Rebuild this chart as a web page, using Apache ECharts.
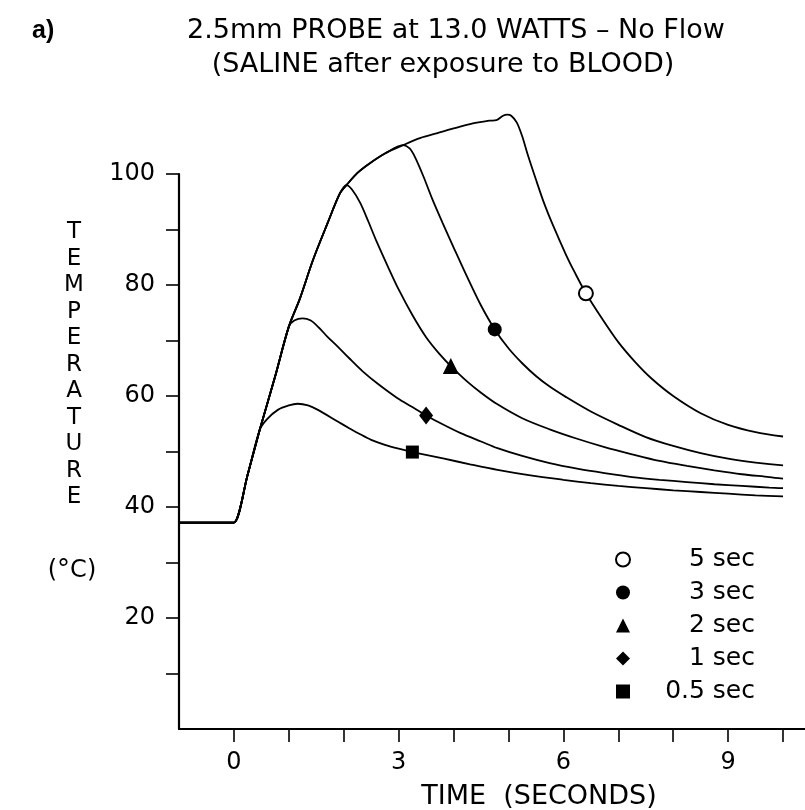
<!DOCTYPE html>
<html>
<head>
<meta charset="utf-8">
<script src="https://cdn.jsdelivr.net/npm/echarts@6/dist/echarts.min.js"></script>
<style>
  html, body { margin: 0; padding: 0; background: #fff; }
  #chart { width: 805px; height: 810px; }
</style>
</head>
<body>
<div id="chart"></div>
<script>
// heating phase, shared by every curve (time s, temperature C)
const heatTime = [-1, -0.1, 0, 0.25, 0.47, 0.75, 1.0, 1.2, 1.44, 1.7, 1.93, 2.05, 2.25, 2.47, 2.75, 3.08, 3.4, 3.69, 4.0, 4.3, 4.65, 4.78, 4.9, 4.98];
const heatTemp = [37.2, 37.2, 37.2, 45.8, 53.9, 63.5, 72.5, 77.5, 84.5, 91, 96.5, 98, 100.2, 101.9, 103.7, 105.2, 106.5, 107.3, 108.2, 109, 109.6, 109.7, 110.5, 110.7];

// cooling after the probe is switched off
const cool05Time = [0.6, 0.8, 1.0, 1.16, 1.35, 1.53, 1.89, 2.1, 2.3, 2.5, 2.75, 3.0, 3.25, 3.83, 4.3, 4.8, 5.4, 6.0, 6.5, 7.0, 7.5, 8.0, 8.5, 9.0, 9.5, 10.0];
const cool05Temp = [55.8, 57.5, 58.3, 58.6, 58.3, 57.5, 55.4, 54.2, 53.1, 52.1, 51.2, 50.5, 49.9, 48.7, 47.7, 46.7, 45.7, 44.9, 44.3, 43.8, 43.4, 43.0, 42.7, 42.4, 42.1, 41.9];

const cool1Time = [1.1, 1.25, 1.4, 1.55, 1.7, 1.89, 2.1, 2.35, 2.62, 2.98, 3.25, 3.5, 3.8, 4.13, 4.5, 4.8, 5.25, 5.75, 6.25, 6.75, 7.25, 7.75, 8.25, 8.75, 9.25, 9.75, 10.0];
const cool1Temp = [73.6, 74.0, 73.6, 72.3, 70.7, 68.9, 66.8, 64.4, 62.2, 59.6, 58.0, 56.5, 54.9, 53.3, 51.8, 50.6, 49.2, 47.9, 46.9, 46.1, 45.4, 44.9, 44.5, 44.1, 43.8, 43.5, 43.4];

const cool2Time = [2.15, 2.3, 2.45, 2.6, 2.8, 3.0, 3.25, 3.5, 3.75, 3.95, 4.25, 4.5, 4.8, 5.25, 5.75, 6.25, 6.75, 7.25, 7.75, 8.25, 8.75, 9.25, 9.75, 10.0];
const cool2Temp = [97.2, 94.8, 91.4, 87.8, 83.4, 79.2, 74.6, 70.6, 67.5, 65.4, 62.6, 60.6, 58.5, 56.0, 54.0, 52.3, 50.8, 49.5, 48.3, 47.4, 46.6, 45.9, 45.4, 45.1];

const cool3Time = [3.2, 3.3, 3.45, 3.6, 3.8, 4.0, 4.25, 4.5, 4.75, 5.0, 5.25, 5.5, 5.75, 6.05, 6.5, 7.0, 7.5, 8.0, 8.5, 9.0, 9.5, 10.0];
const cool3Temp = [104.6, 103.0, 99.6, 95.8, 91.2, 86.8, 81.4, 76.3, 72.0, 68.6, 65.9, 63.6, 61.7, 59.8, 57.2, 54.8, 52.6, 51.0, 49.7, 48.7, 48.0, 47.5];

const cool5Time = [5.05, 5.15, 5.25, 5.35, 5.5, 5.65, 5.8, 6.05, 6.2, 6.41, 6.7, 7.0, 7.3, 7.6, 8.0, 8.5, 9.0, 9.5, 10.0];
const cool5Temp = [110.5, 109.3, 106.8, 103.5, 99.0, 94.7, 91.0, 85.4, 82.4, 78.5, 74.0, 69.7, 66.2, 63.2, 60.0, 56.9, 54.8, 53.5, 52.7];

// pulse lengths, where each curve leaves the heating line, and marker points
const pulseNames = ['5 sec', '3 sec', '2 sec', '1 sec', '0.5 sec'];
const branchTime = [4.98, 3.08, 2.05, 1.0, 0.47];
const markerTime = [6.41, 4.75, 3.95, 3.5, 3.25];
const markerTemp = [78.5, 72.0, 65.4, 56.5, 49.9];
const markerSymbols = ['emptyCircle', 'circle', 'triangle', 'diamond', 'rect'];
const markerSizes = [14, 14, 16, [14, 18], 13];

const xTicks = [0, 1, 2, 3, 4, 5, 6, 7, 8, 9, 10];
const xTickLabels = [0, 3, 6, 9];
const yTicks = [10, 20, 30, 40, 50, 60, 70, 80, 90, 100];
const yTickLabels = [20, 40, 60, 80, 100];

const coolTime = [cool5Time, cool3Time, cool2Time, cool1Time, cool05Time];
const coolTemp = [cool5Temp, cool3Temp, cool2Temp, cool1Temp, cool05Temp];

const labelFont = 'DejaVu Sans';

function buildCurve(i) {
  const pts = [];
  heatTime.forEach((t, k) => {
    if (t <= branchTime[i]) pts.push([t, heatTemp[k]]);
  });
  coolTime[i].forEach((t, k) => pts.push([t, coolTemp[i][k]]));
  return pts;
}

const chart = echarts.init(document.getElementById('chart'));

const lineSeries = pulseNames.map((name, i) => ({
  name: name + ' curve',
  type: 'line',
  data: buildCurve(i),
  symbol: 'none',
  smooth: 0.3,
  clip: false,
  lineStyle: { color: '#000', width: 1.8 },
  z: 2
}));

const markerSeries = pulseNames.map((name, i) => ({
  name: name,
  type: 'scatter',
  data: [[markerTime[i], markerTemp[i]]],
  symbol: markerSymbols[i],
  symbolSize: markerSizes[i],
  itemStyle: { color: '#000', borderColor: '#000', borderWidth: i === 0 ? 1.5 : 0, opacity: 1 },
  emphasis: { disabled: true },
  clip: false,
  z: 3
}));

const option = {
  animation: false,
  backgroundColor: '#fff',
  grid: { left: 179, right: 0, top: 174, bottom: 81 },
  xAxis: {
    type: 'value',
    min: -1,
    max: 10.4,
    axisLine: { onZero: false, lineStyle: { color: '#000', width: 2.2 } },
    axisTick: { customValues: xTicks, length: 13, lineStyle: { color: '#000', width: 1.6 } },
    axisLabel: { customValues: xTickLabels, margin: 22, color: '#000', fontSize: 24, fontFamily: labelFont },
    splitLine: { show: false }
  },
  yAxis: {
    type: 'value',
    min: 0,
    max: 100,
    axisLine: { show: true, onZero: false, lineStyle: { color: '#000', width: 2.2 } },
    axisTick: { show: true, customValues: yTicks, length: 13, lineStyle: { color: '#000', width: 1.6 } },
    axisLabel: { customValues: yTickLabels, margin: 24, color: '#000', fontSize: 24, fontFamily: labelFont },
    splitLine: { show: false }
  },
  legend: {
    data: pulseNames,
    orient: 'vertical',
    left: 610,
    top: 542,
    itemWidth: 14,
    itemHeight: 14,
    itemGap: 8,
    selectedMode: false,
    formatter: name => '{t|' + name + '}',
    textStyle: {
      rich: {
        t: { width: 120, align: 'right', fontSize: 25, lineHeight: 25, fontFamily: labelFont, color: '#000' }
      }
    }
  },
  graphic: [
    { type: 'text', x: 32, y: 31, style: { text: 'a)', font: 'bold 25px "Liberation Sans"', fill: '#000', textVerticalAlign: 'middle' } },
    { type: 'text', x: 456, y: 31, style: { text: '2.5mm PROBE at 13.0 WATTS – No Flow', font: '27px "DejaVu Sans"', fill: '#000', textAlign: 'center', textVerticalAlign: 'middle' } },
    { type: 'text', x: 443, y: 65, style: { text: '(SALINE after exposure to BLOOD)', font: '27px "DejaVu Sans"', fill: '#000', textAlign: 'center', textVerticalAlign: 'middle' } },
    { type: 'text', x: 74, y: 219, style: { text: 'TEMPERATURE'.split('').join('\n'), font: '23px "DejaVu Sans"', lineHeight: 26.5, fill: '#000', textAlign: 'center' } },
    { type: 'text', x: 72, y: 571, style: {
      text: '({d|°}C)', font: '24px "DejaVu Sans"', fill: '#000', textAlign: 'center', textVerticalAlign: 'middle',
      rich: { d: { fontSize: 26, fontFamily: labelFont, fill: '#000' } }
    } },
    { type: 'text', x: 539, y: 797, style: { text: 'TIME  (SECONDS)', font: '27px "DejaVu Sans"', fill: '#000', textAlign: 'center', textVerticalAlign: 'middle' } }
  ],
  series: lineSeries.concat(markerSeries)
};

chart.setOption(option);
window.addEventListener('resize', () => chart.resize());
</script>
</body>
</html>
